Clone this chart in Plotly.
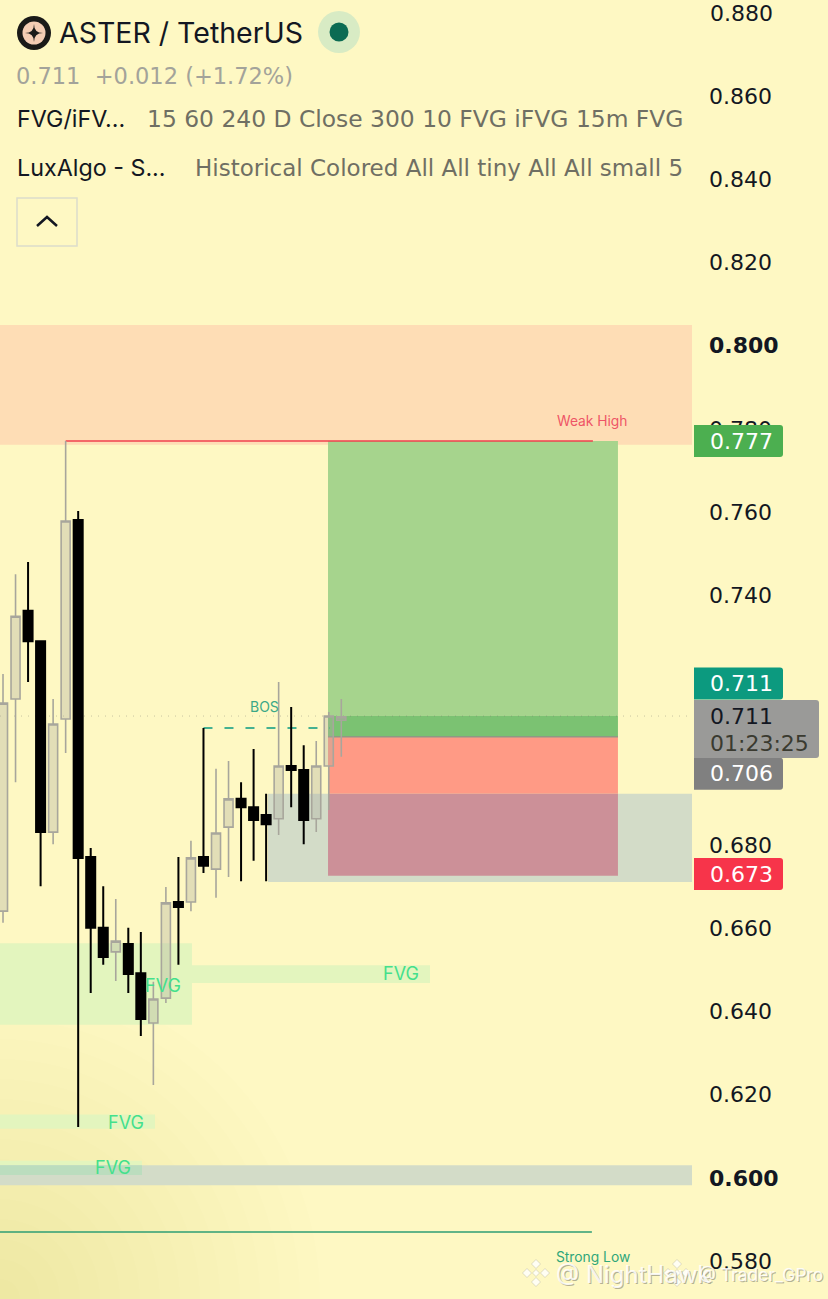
import plotly.graph_objects as go

# candles
opens = [0.6641, 0.7151, 0.7363, 0.7290, 0.6831, 0.7103, 0.7581, 0.6771, 0.6601, 0.6543,
         0.6562, 0.6492, 0.6372, 0.6432, 0.6663, 0.6663, 0.6771, 0.6742, 0.6843, 0.6911,
         0.6891, 0.6872, 0.6863, 0.6990, 0.6980, 0.6863, 0.6990, 0.7100]
highs = [0.7211, 0.7451, 0.7480, 0.7290, 0.7151, 0.7771, 0.7603, 0.6793, 0.6701, 0.6670,
         0.6601, 0.6591, 0.6471, 0.6699, 0.6771, 0.6810, 0.7081, 0.6983, 0.7002, 0.6951,
         0.7031, 0.6923, 0.7192, 0.7132, 0.7040, 0.7050, 0.7120, 0.7151]
lows = [0.6613, 0.6951, 0.7192, 0.6701, 0.6802, 0.7021, 0.6122, 0.6444, 0.6512, 0.6473,
        0.6444, 0.6341, 0.6223, 0.6420, 0.6512, 0.6641, 0.6733, 0.6673, 0.6723, 0.6713,
        0.6762, 0.6713, 0.6824, 0.6891, 0.6802, 0.6831, 0.6884, 0.7012]
closes = [0.7141, 0.7350, 0.7290, 0.6831, 0.7091, 0.7579, 0.6769, 0.6601, 0.6531, 0.6569,
          0.6490, 0.6382, 0.6430, 0.6661, 0.6651, 0.6769, 0.6750, 0.6829, 0.6911, 0.6891,
          0.6860, 0.6850, 0.6990, 0.6980, 0.6860, 0.6990, 0.7110, 0.7108]
candle_idx = list(range(len(opens)))

tick_vals = [0.58, 0.60, 0.62, 0.64, 0.66, 0.68, 0.70, 0.72, 0.74, 0.76, 0.78, 0.80, 0.82, 0.84, 0.86]
tick_text = ["0.580", "<b>0.600</b>", "0.620", "0.640", "0.660", "0.680", "0.700", "0.720",
             "0.740", "0.760", "0.780", "<b>0.800</b>", "0.820", "0.840", "0.860"]

# zones: x0, x1, price top, price bottom, colour
zones = [
    (-0.24, 54.99, 0.8050, 0.7762, "#FEDDB5"),
    (-0.24, 15.08, 0.6564, 0.6368, "#E3F5BE"),
    (11.97, 34.08, 0.6511, 0.6468, "#E3F5BE"),
    (-0.24, 12.13, 0.6152, 0.6118, "#E3F5BE"),
    (-0.24, 11.09, 0.6041, 0.6007, "#E3F5BE"),
    (-0.24, 54.99, 0.6030, 0.5982, "#D3DCC8"),
    (-0.24, 11.09, 0.6030, 0.6007, "#BBDDBE"),
    (21.15, 54.99, 0.6923, 0.6711, "#D3DCC8"),
    (25.94, 49.08, 0.7771, 0.7110, "#A6D48D"),
    (25.94, 49.08, 0.7110, 0.7060, "#7BC272"),
    (25.94, 49.08, 0.7060, 0.6923, "#FF9A85"),
    (25.94, 49.08, 0.6923, 0.6726, "#CC9098"),
]

fvg_labels = [(12.75, 0.6463), (31.76, 0.6492), (9.82, 0.6133), (8.78, 0.6025)]

# tag text, price position on the axis, colour (0.711 and 0.706 get pushed apart by the countdown box)
tags = [("0.777", 0.7771, "#4CAF50"), ("0.711", 0.7188, "#0C9A7F"),
        ("0.706", 0.6971, "#808080"), ("0.673", 0.6730, "#F7344A")]

BG = "#FEF8C3"
PLOT_W = 692
H = 1299
FONT = "Inter"
WIDE = "DejaVu Sans"


def px(x):
    return x / PLOT_W


def py(y):
    return 1 - y / H


def text(s, x, y, size, color, anchor="left", ref=False, family=FONT):
    # ref=True -> x,y are data values, otherwise page pixels
    return dict(text=s, x=x if ref else px(x), y=y if ref else py(y),
                xref="x" if ref else "paper", yref="y" if ref else "paper",
                xanchor=anchor, yanchor="middle", showarrow=False, borderpad=0, borderwidth=0,
                font=dict(family=family, size=size, color=color))


def rounded(x0, y0, x1, y1, r, color):
    # rect in page pixels, rounded on the right side
    p = (f"M {px(x0)} {py(y0)} L {px(x1 - r)} {py(y0)} Q {px(x1)} {py(y0)} {px(x1)} {py(y0 + r)} "
         f"L {px(x1)} {py(y1 - r)} Q {px(x1)} {py(y1)} {px(x1 - r)} {py(y1)} L {px(x0)} {py(y1)} Z")
    return dict(type="path", path=p, xref="paper", yref="paper", fillcolor=color,
                line=dict(width=0), layer="above")


def circle(cx, cy, r, color, layer="above", opacity=1):
    return dict(type="circle", xref="paper", yref="paper", x0=px(cx - r), x1=px(cx + r),
                y0=py(cy + r), y1=py(cy - r), fillcolor=color, line=dict(width=0),
                layer=layer, opacity=opacity)


def diamond(cx, cy, r, color):
    p = f"M {px(cx - r)} {py(cy)} L {px(cx)} {py(cy - r)} L {px(cx + r)} {py(cy)} L {px(cx)} {py(cy + r)} Z"
    return dict(type="path", path=p, xref="paper", yref="paper", fillcolor=color,
                line=dict(width=0.5, color="rgba(150,150,135,0.6)"), layer="above")


def star(cx, cy, r, color):
    c = f"{px(cx)} {py(cy)}"
    p = (f"M {px(cx - r)} {py(cy)} Q {c} {px(cx)} {py(cy - r)} Q {c} {px(cx + r)} {py(cy)} "
         f"Q {c} {px(cx)} {py(cy + r)} Q {c} {px(cx - r)} {py(cy)} Z")
    return dict(type="path", path=p, xref="paper", yref="paper", fillcolor=color,
                line=dict(width=0), layer="above")


shapes = []

# dark corner of the screenshot, bottom left
for r in range(320, 0, -20):
    shapes.append(circle(0, 1299, r, "#6E5A32", layer="below", opacity=0.008))

for x0, x1, top, bottom, color in zones:
    shapes.append(dict(type="rect", xref="x", yref="y", x0=x0, x1=x1, y0=bottom, y1=top,
                       fillcolor=color, line=dict(width=0), layer="below"))

# price lines
shapes += [
    dict(type="line", xref="x", yref="y", x0=25.94, x1=49.08, y0=0.7060, y1=0.7060,
         line=dict(color="#8F9A84", width=1.5), layer="below"),
    dict(type="line", xref="x", yref="y", x0=5, x1=47.08, y0=0.7771, y1=0.7771,
         line=dict(color="#F0404F", width=1.5), layer="below"),
    dict(type="line", xref="x", yref="y", x0=-0.24, x1=47, y0=0.5870, y1=0.5870,
         line=dict(color="#2E9E75", width=1.5), layer="below"),
    dict(type="line", xref="x", yref="y", x0=16, x1=26.1, y0=0.7081, y1=0.7081,
         line=dict(color="#089981", width=1.5, dash="9px,12px"), layer="below"),
    dict(type="line", xref="x", yref="y", x0=-0.24, x1=54.99, y0=0.7110, y1=0.7110,
         line=dict(color="rgba(120,120,110,0.4)", width=1, dash="1px,6px"), layer="below"),
]

# price tags
for label, price, color in tags:
    yc = (0.88 - price) * 4160 + 13
    shapes.append(rounded(694, yc - 16, 783, yc + 16, 3, color))
shapes.append(rounded(694, 700, 819, 758, 3, "#9A9A98"))

# header icons
shapes += [
    circle(34, 33, 17, "#1A1A18"),
    circle(34, 33, 11.5, "#F4CDB4"),
    star(34, 33, 9, "#1A1A18"),
    circle(339, 32, 21, "#D8EBC4"),
    circle(339, 32, 9.5, "#0B6B53"),
    dict(type="rect", xref="paper", yref="paper", x0=px(17), x1=px(77), y0=py(246), y1=py(198),
         line=dict(color="#DCDCCC", width=1.5), fillcolor="rgba(0,0,0,0)", layer="above"),
    dict(type="path", xref="paper", yref="paper", layer="above",
         path=f"M {px(37)} {py(226)} L {px(47)} {py(217)} L {px(57)} {py(226)}",
         line=dict(color="#131722", width=2.5)),
]

# watermark icons
for cx in [536, 677]:
    for dx, dy in [(-9, 0), (9, 0), (0, -9), (0, 9)]:
        shapes.append(diamond(cx + dx, 1273 + dy, 4.5, "rgba(255,255,255,0.8)"))
    shapes.append(diamond(cx, 1273, 3.5, "rgba(255,255,255,0.8)"))

annotations = [
    text("ASTER / TetherUS", 59, 33, 28.5, "#131722"),
    text("0.711 &nbsp;+0.012 (+1.72%)", 16, 76, 22.5, "#A3A39A", family=WIDE),
    text("FVG/iFV...", 17, 119, 23.3, "#131722"),
    text("15 60 240 D Close 300 10 FVG iFVG 15m FVG", 147, 119, 23.4, "#6F6F63", family=WIDE),
    text("LuxAlgo - S...", 17, 168, 23.3, "#131722"),
    text("Historical Colored All All tiny All All small 5", 195, 168, 23, "#6F6F63", family=WIDE),
    text("Weak High", 47.08, 0.7820, 13.8, "#EE5566", anchor="center", ref=True),
    text("Strong Low", 47.08, 0.5810, 13.8, "#2FA77A", anchor="center", ref=True),
    text("BOS", 20.9, 0.7133, 14, "#3BA887", anchor="center", ref=True),
    text("0.880", 710, 13, 22, "#131722", family=WIDE),
]
for x, price in fvg_labels:
    annotations.append(text("FVG", x, price, 18, "#44E08C", anchor="center", ref=True))

for label, price, color in tags:
    yc = (0.88 - price) * 4160 + 13
    annotations.append(text(label, 710, yc, 22, "white", family=WIDE))
annotations.append(text("0.711", 710, 716, 22, "#131722", family=WIDE))
annotations.append(text("01:23:25", 710, 743, 22, "#3A3A30", family=WIDE))

# watermark, two stamps on top of each other
for dx, color in [(1, "rgba(130,130,115,0.6)"), (0, "rgba(255,255,255,0.85)")]:
    annotations.append(text("@ NightHawk", 556 + dx, 1274 + dx, 24, color))
    annotations.append(text("@ Trader_GPro", 699 + dx, 1274 + dx, 17.5, color))

fig = go.Figure(go.Candlestick(
    x=candle_idx, open=opens, high=highs, low=lows, close=closes,
    increasing=dict(line=dict(color="#A8A69C", width=1.6), fillcolor="rgba(175,175,160,0.35)"),
    decreasing=dict(line=dict(color="#000000", width=2), fillcolor="#000000"),
    whiskerwidth=0, showlegend=False, hoverinfo="skip",
))

fig.update_layout(
    width=828, height=1299,
    margin=dict(l=0, r=136, t=0, b=0),
    paper_bgcolor=BG, plot_bgcolor=BG,
    boxgap=0.2, boxgroupgap=0.1,
    shapes=shapes, annotations=annotations,
    showlegend=False,
)
fig.update_xaxes(range=[-0.24, 54.99], visible=False, rangeslider_visible=False)
fig.update_yaxes(range=[0.57087, 0.88312], side="right", showgrid=False, zeroline=False,
                 showline=False, tickmode="array", tickvals=tick_vals, ticktext=tick_text,
                 ticks="", ticklabelstandoff=16, tickfont=dict(family=WIDE, size=22, color="#131722"))

fig.write_html("out.html", config=dict(displayModeBar=False),
               post_script="document.body.style.margin='0';")
